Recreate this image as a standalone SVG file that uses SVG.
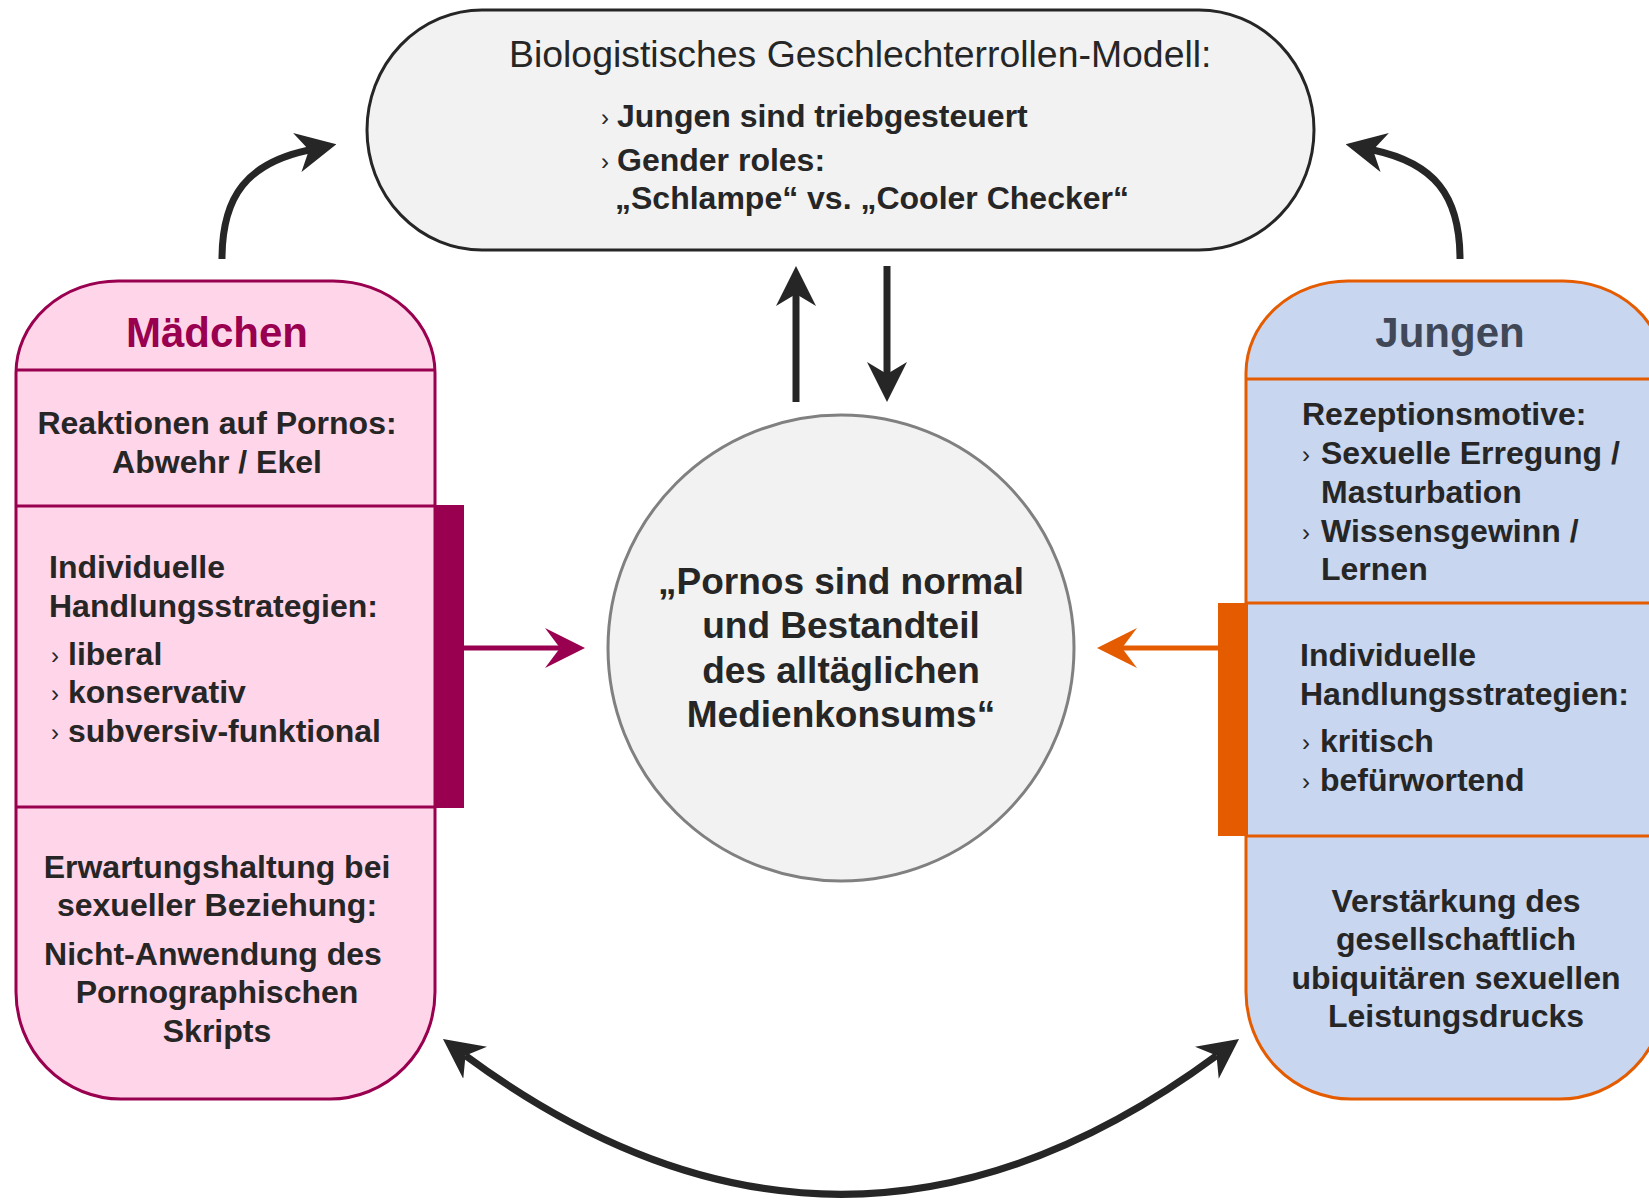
<svg xmlns="http://www.w3.org/2000/svg" width="1649" height="1202" viewBox="0 0 1649 1202">
<defs>
<style>
.t{font-family:"Liberation Sans",Arial,Helvetica,sans-serif;fill:#262626}
.b{font-weight:bold;font-size:32px}
.bl{font-weight:normal;font-size:24px}
.c{text-anchor:middle}
.hd{font-family:"Liberation Sans",Arial,Helvetica,sans-serif;font-weight:bold;font-size:42px;text-anchor:middle}
.big{font-weight:bold;font-size:37px}
.ttl{font-weight:normal;font-size:37.4px}
.pink{fill:#ffd5e9;stroke:#99004f;stroke-width:3}
.pdiv{stroke:#99004f;stroke-width:3}
.blue{fill:#c8d6ef;stroke:#e55c00;stroke-width:3}
.odiv{stroke:#e55c00;stroke-width:3}
.blk{fill:none;stroke:#262626;stroke-width:7}
</style>
<marker id="ah" viewBox="0 -20 40 40" refX="12" refY="0" markerWidth="40" markerHeight="40" markerUnits="userSpaceOnUse" orient="auto-start-reverse">
<path d="M0,-20 L40,0 L0,20 L12,0 Z" fill="#262626"/>
</marker>
<marker id="ahm" viewBox="0 -20 40 40" refX="15" refY="0" markerWidth="40" markerHeight="40" markerUnits="userSpaceOnUse" orient="auto">
<path d="M0,-20 L40,0 L0,20 L15,0 Z" fill="#99004f"/>
</marker>
<marker id="aho" viewBox="0 -20 40 40" refX="15" refY="0" markerWidth="40" markerHeight="40" markerUnits="userSpaceOnUse" orient="auto">
<path d="M0,-20 L40,0 L0,20 L15,0 Z" fill="#e55c00"/>
</marker>
</defs>
<rect x="0" y="0" width="1649" height="1202" fill="#ffffff"/>

<g id="node-model">
<rect x="367" y="10" width="947" height="240" rx="115" ry="120" fill="#f2f2f2" stroke="#262626" stroke-width="3"/>
<text class="t ttl" x="509" y="67">Biologistisches Geschlechterrollen-Modell:</text>
<text class="t bl" x="601" y="126">›</text>
<text class="t b" x="617" y="127">Jungen sind triebgesteuert</text>
<text class="t bl" x="601" y="170">›</text>
<text class="t b" x="617" y="171">Gender roles:</text>
<text class="t b" x="615" y="209">„Schlampe“ vs. „Cooler Checker“</text>
</g>

<g id="node-center">
<circle cx="841" cy="648" r="233" fill="#f2f2f2" stroke="#808080" stroke-width="3"/>
<text class="t big c" x="841" y="594">„Pornos sind normal</text>
<text class="t big c" x="841" y="638">und Bestandteil</text>
<text class="t big c" x="841" y="683">des alltäglichen</text>
<text class="t big c" x="841" y="727">Medienkonsums“</text>
</g>

<g id="node-maedchen">
<path class="pink" d="M118,281 H333 A102,92 0 0 1 435,373 V992 A105,107 0 0 1 330,1099 H121 A105,107 0 0 1 16,992 V373 A102,92 0 0 1 118,281 Z"/>
<line class="pdiv" x1="16" y1="370" x2="435" y2="370"/>
<line class="pdiv" x1="16" y1="506" x2="435" y2="506"/>
<line class="pdiv" x1="16" y1="807" x2="435" y2="807"/>
<rect x="434" y="505" width="30" height="303" fill="#99004f"/>
<text class="hd" x="217" y="347" fill="#99004f">Mädchen</text>
<text class="t b c" x="217" y="434">Reaktionen auf Pornos:</text>
<text class="t b c" x="217" y="473">Abwehr / Ekel</text>
<text class="t b" x="49" y="578">Individuelle</text>
<text class="t b" x="49" y="617">Handlungsstrategien:</text>
<text class="t bl" x="51" y="664">›</text>
<text class="t b" x="68" y="665">liberal</text>
<text class="t bl" x="51" y="702">›</text>
<text class="t b" x="68" y="703">konservativ</text>
<text class="t bl" x="51" y="741">›</text>
<text class="t b" x="68" y="742">subversiv-funktional</text>
<text class="t b c" x="217" y="878">Erwartungshaltung bei</text>
<text class="t b c" x="217" y="916">sexueller Beziehung:</text>
<text class="t b c" x="213" y="965">Nicht-Anwendung des</text>
<text class="t b c" x="217" y="1003">Pornographischen</text>
<text class="t b c" x="217" y="1042">Skripts</text>
</g>

<g id="node-jungen">
<path class="blue" d="M1348,281 H1563 A102,92 0 0 1 1665,373 V992 A105,107 0 0 1 1560,1099 H1351 A105,107 0 0 1 1246,992 V373 A102,92 0 0 1 1348,281 Z"/>
<line class="odiv" x1="1246" y1="379" x2="1665" y2="379"/>
<line class="odiv" x1="1246" y1="603" x2="1665" y2="603"/>
<line class="odiv" x1="1246" y1="836" x2="1665" y2="836"/>
<rect x="1218" y="603" width="30" height="233" fill="#e55c00"/>
<text class="hd" x="1450" y="347" fill="#404858">Jungen</text>
<text class="t b" x="1302" y="425">Rezeptionsmotive:</text>
<text class="t bl" x="1302" y="463">›</text>
<text class="t b" x="1321" y="464">Sexuelle Erregung /</text>
<text class="t b" x="1321" y="503">Masturbation</text>
<text class="t bl" x="1302" y="541">›</text>
<text class="t b" x="1321" y="542">Wissensgewinn /</text>
<text class="t b" x="1321" y="580">Lernen</text>
<text class="t b" x="1300" y="666">Individuelle</text>
<text class="t b" x="1300" y="705">Handlungsstrategien:</text>
<text class="t bl" x="1302" y="751">›</text>
<text class="t b" x="1320" y="752">kritisch</text>
<text class="t bl" x="1302" y="790">›</text>
<text class="t b" x="1320" y="791">befürwortend</text>
<text class="t b c" x="1456" y="912">Verstärkung des</text>
<text class="t b c" x="1456" y="950">gesellschaftlich</text>
<text class="t b c" x="1456" y="989">ubiquitären sexuellen</text>
<text class="t b c" x="1456" y="1027">Leistungsdrucks</text>
</g>

<g id="connectors">
<path class="blk" d="M796,402 V294" marker-end="url(#ah)"/>
<path class="blk" d="M887,266 V374" marker-end="url(#ah)"/>
<path class="blk" d="M222,259 C222,195 248,163 309,150" marker-end="url(#ah)"/>
<path class="blk" d="M1460,259 C1460,195 1434,163 1373,150" marker-end="url(#ah)"/>
<path class="blk" d="M465.5,1055.6 Q841,1333 1216.5,1055.6" marker-start="url(#ah)" marker-end="url(#ah)"/>
<path d="M464,648 H560" fill="none" stroke="#99004f" stroke-width="5" marker-end="url(#ahm)"/>
<path d="M1218,648 H1122" fill="none" stroke="#e55c00" stroke-width="5" marker-end="url(#aho)"/>
</g>
</svg>
